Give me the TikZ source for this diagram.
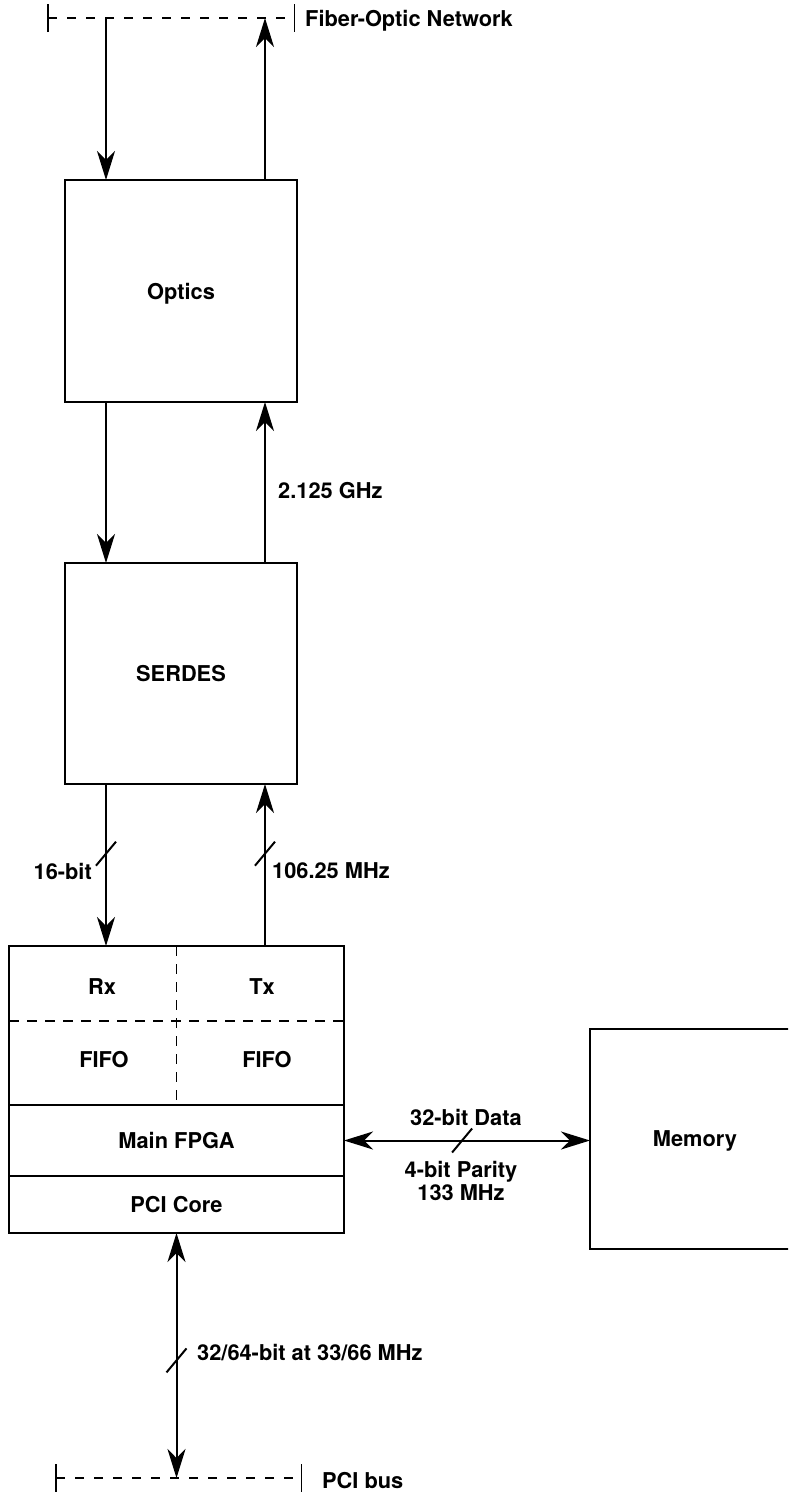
\documentclass[tikz,border=0pt]{standalone}
\usepackage{fontspec}
\setmainfont{TeX Gyre Heros}
\usetikzlibrary{arrows.meta,positioning}

\begin{document}
\begin{tikzpicture}[x=1pt, y=-1pt,
    every node/.style={font=\fontsize{21.8}{23}\selectfont\bfseries, inner sep=2pt, text depth=0pt},
    box/.style={draw, rectangle, line width=1.8pt, inner sep=0pt, outer sep=0pt},
    flow/.style={line width=2pt, -{Stealth[length=29pt, width=18pt, inset=9pt]}},
    flowboth/.style={line width=2pt, {Stealth[length=29pt, width=18pt, inset=9pt]}-{Stealth[length=29pt, width=18pt, inset=9pt]}},
    bus/.style={line width=1.5pt, dash pattern=on 9pt off 10pt, {Bar[width=28pt]}-{Bar[width=28pt]}},
    cut/.style={line width=1.6pt, dash pattern=on 10pt off 8pt},
    slash/.style={line width=2pt}]
    \useasboundingbox (0,0) rectangle (788,1492);
    \clip (0,0) rectangle (788,1492);

    % bus ends and columns
    \coordinate (fonL) at (47,18);
    \coordinate (fonR) at (295,18);
    \coordinate (pciL) at (55,1478);
    \coordinate (pciR) at (302,1478);
    \coordinate (rx) at (106,0);
    \coordinate (tx) at (265,0);
    \coordinate (rowcut) at (0,1021);

    % blocks
    \node[box, minimum width=232pt, minimum height=222pt] (optics) at (181,291) {Optics};
    \node[box, minimum width=232pt, minimum height=221pt, below=161pt of optics] (serdes) {SERDES};
    \node[box, minimum width=335pt, minimum height=159pt] (fifo) at (176.5,1025.5) {};
    \node[box, minimum width=335pt, minimum height=71pt, below=0pt of fifo] (mainfpga) {Main FPGA};
    \node[box, minimum width=335pt, minimum height=57pt, below=0pt of mainfpga] (pcicore) {PCI Core};
    \node[box, minimum width=210pt, minimum height=220pt] (memory) at (695,1139) {Memory};

    % fifo cells
    \draw[cut] (fifo.north) -- (fifo.south);
    \draw[cut] (fifo.west |- rowcut) -- (fifo.east |- rowcut);
    \node (rxlbl) at (102,987) {Rx};
    \node (txlbl) at (262,987) {Tx};
    \node (rxfifo) at (104,1059) {FIFO};
    \node (txfifo) at (267,1059) {FIFO};

    % buses
    \draw[bus] (fonL) -- (fonR);
    \node[anchor=west] (fonlbl) at (303,18) {Fiber-Optic Network};
    \draw[bus] (pciL) -- (pciR);
    \node[anchor=west] (pcibus) at (320,1480) {PCI bus};

    % links
    \draw[flow] (fonL -| rx) -- (optics.north -| rx);
    \draw[flow] (optics.north -| tx) -- (fonR -| tx);
    \draw[flow] (optics.south -| rx) -- (serdes.north -| rx);
    \draw[flow] (serdes.north -| tx) -- (optics.south -| tx);
    \node[anchor=west] (ghz) at (276,490) {2.125 GHz};

    \draw[flow] (serdes.south -| rx) -- coordinate[pos=0.43] (s1) (fifo.north -| rx);
    \draw[slash] ([shift={(-10,12)}]s1) -- ([shift={(10,-12)}]s1);
    \node[anchor=east] (bits16) at (94,871) {16-bit};
    \draw[flow] (fifo.north -| tx) -- coordinate[pos=0.57] (s2) (serdes.south -| tx);
    \draw[slash] ([shift={(-10,12)}]s2) -- ([shift={(10,-12)}]s2);
    \node[anchor=west] (mhz106) at (270,871) {106.25 MHz};

    \draw[flowboth] (mainfpga.east) -- coordinate[pos=0.48] (s3) (mainfpga.east -| memory.west);
    \draw[slash] ([shift={(-10,12)}]s3) -- ([shift={(10,-12)}]s3);
    \node (data32) at (466,1117) {32-bit Data};
    \node[align=center] (parity) at (461,1181) {4-bit Parity\\133 MHz};

    \draw[flowboth] (pcicore.south) -- coordinate[pos=0.52] (s4) (pcicore.south |- pciL);
    \draw[slash] ([shift={(-10,12)}]s4) -- ([shift={(10,-12)}]s4);
    \node[anchor=west] (pcilbl) at (195,1352) {32/64-bit at 33/66 MHz};
\end{tikzpicture}
\end{document}
